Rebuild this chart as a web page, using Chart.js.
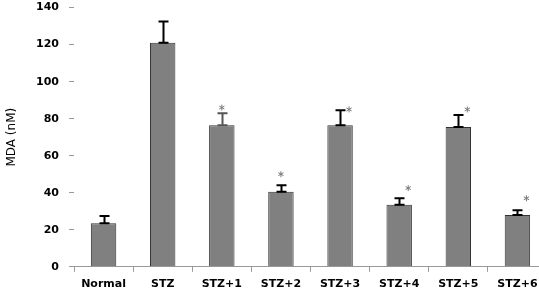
<!DOCTYPE html>
<html>
<head>
<meta charset="utf-8">
<script src="https://cdn.jsdelivr.net/npm/chart.js@4.4.1/dist/chart.umd.min.js"></script>
<style>
html,body{margin:0;padding:0;background:#fff;overflow:hidden;width:539px;height:292px;}
#wrap{width:560px;height:301px;position:relative;margin-top:-9px;}
</style>
</head>
<body>
<div id="wrap"><canvas id="c" width="560" height="301"></canvas></div>
<script>
const categories = ["Normal","STZ","STZ+1","STZ+2","STZ+3","STZ+4","STZ+5","STZ+6"];
const mdaValues = [23.5, 121, 76.5, 40.5, 76.5, 33.5, 75.5, 28];
const mdaErrors = [4, 11.5, 6.5, 3.5, 8, 3.5, 6.5, 2.5];
const starValues = [null, null, 86, 50, 85, 42.5, 85, 37];
const yTicks = [0, 20, 40, 60, 80, 100, 120, 140];

const errorBarPlugin = {
  id: 'errorBars',
  afterDatasetsDraw(chart) {
    const ctx = chart.ctx;
    const meta = chart.getDatasetMeta(0);
    const ys = chart.scales.y;
    ctx.save();
    meta.data.forEach((bar, i) => {
      const x = Math.round(bar.x) + 0.5;
      const y0 = ys.getPixelForValue(mdaValues[i]);
      const y1 = ys.getPixelForValue(mdaValues[i] + mdaErrors[i]);
      ctx.strokeStyle = i === 2 ? '#555' : '#000';
      ctx.lineWidth = 2;
      ctx.beginPath();
      ctx.moveTo(x, y0); ctx.lineTo(x, y1);
      ctx.moveTo(x - 5, y1); ctx.lineTo(x + 5, y1);
      ctx.moveTo(x - 5, y0); ctx.lineTo(x + 5, y0);
      ctx.stroke();
      if (starValues[i] != null) {
        const sx = bar.x + (i >= 4 ? 9 : 0);
        const sy = ys.getPixelForValue(starValues[i]);
        ctx.strokeStyle = '#777';
        ctx.lineWidth = 1;
        ctx.beginPath();
        for (let k = 0; k < 3; k++) {
          const a = Math.PI / 2 + k * Math.PI / 3;
          ctx.moveTo(sx + 3 * Math.cos(a), sy + 3 * Math.sin(a));
          ctx.lineTo(sx - 3 * Math.cos(a), sy - 3 * Math.sin(a));
        }
        ctx.stroke();
      }
    });
    ctx.restore();
  }
};

new Chart(document.getElementById('c'), {
  type: 'bar',
  data: {
    labels: categories,
    datasets: [{
      data: mdaValues,
      backgroundColor: '#808080',
      borderColor: '#333333',
      borderWidth: 1,
      barPercentage: 0.43,
      categoryPercentage: 1.0
    }]
  },
  options: {
    responsive: false,
    animation: false,
    devicePixelRatio: 1,
    layout: { padding: { left: 0, right: 13, top: 0, bottom: -5 } },
    plugins: { legend: { display: false }, tooltip: { enabled: false } },
    scales: {
      x: {
        grid: { display: true, drawOnChartArea: false, drawTicks: true, tickLength: 5, color: '#999', offset: true },
        border: { display: true, color: '#999', width: 1 },
        ticks: { color: '#000', font: { family: 'DejaVu Sans', size: 11, weight: 'bold' }, padding: 6, maxRotation: 0, autoSkip: false }
      },
      y: {
        min: 0, max: 140,
        afterBuildTicks(scale) { scale.ticks = yTicks.map(v => ({ value: v })); },
        afterFit(scale) { scale.width = 74; },
        grid: { display: true, drawOnChartArea: false, drawTicks: true, tickLength: 5, color: '#999' },
        border: { display: false },
        ticks: { color: '#000', font: { family: 'DejaVu Sans', size: 11, weight: 'bold' }, padding: 10 },
        title: { display: true, text: 'MDA (nM)', color: '#000', font: { family: 'DejaVu Sans', size: 12 }, padding: { top: 5, bottom: 0 } }
      }
    }
  },
  plugins: [errorBarPlugin]
});
</script>
</body>
</html>
